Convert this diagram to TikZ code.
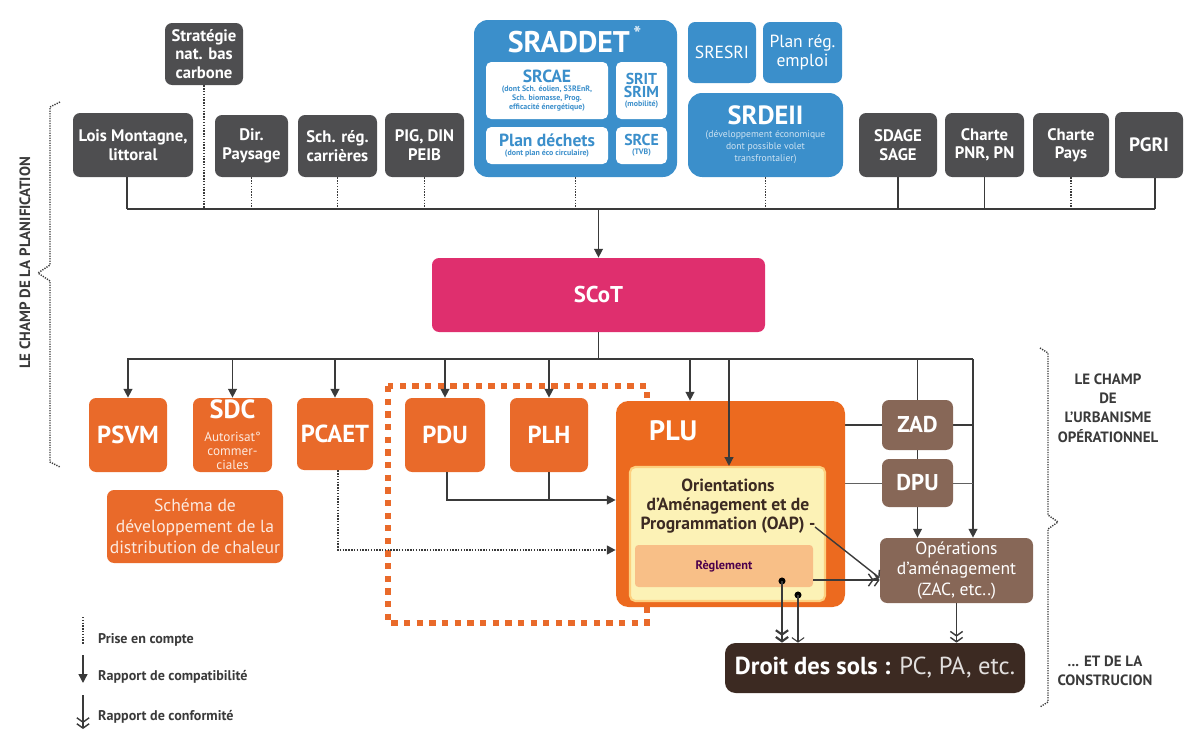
\documentclass[tikz,border=0pt]{standalone}
\usepackage{fontspec}
\setmainfont{PT Sans}
\usetikzlibrary{arrows.meta,calc,backgrounds}

\definecolor{dgray}{HTML}{4E4E50}
\definecolor{sblue}{HTML}{3B8FCB}
\definecolor{scotc}{HTML}{DF2F6E}
\definecolor{orng}{HTML}{E96A2A}
\definecolor{pluc}{HTML}{EC6A1F}
\definecolor{oapy}{HTML}{FCF2B6}
\definecolor{reglc}{HTML}{F8BF87}
\definecolor{brwn}{HTML}{876757}
\definecolor{dbrwn}{HTML}{3C2A22}
\definecolor{lnk}{HTML}{3A3A3A}

\tikzset{
  wh/.style 2 args={minimum width=#1*0.02cm, minimum height=#2*0.02cm},
  boite/.style={rounded corners=4pt, inner sep=1pt, align=center, text=white,
                font=\bfseries\fontsize{9.5}{10.5}\selectfont},
  gris/.style={boite, fill=dgray},
  bleu/.style={boite, fill=sblue},
  blanc/.style={boite, fill=white, text=sblue, rounded corners=3pt,
                font=\bfseries\fontsize{4.5}{5}\selectfont},
  boiteor/.style={boite, fill=orng, font=\bfseries\fontsize{14}{15}\selectfont},
  brun/.style={boite, fill=brwn, font=\bfseries\fontsize{13}{14}\selectfont},
  lien/.style={draw=lnk, line width=0.8pt},
  fin/.style={draw=lnk!80, line width=0.5pt},
  pointille/.style={draw=lnk, line width=1.1pt, dash pattern=on 0.8pt off 0.8pt},
  compat/.style={lien, -{Triangle[length=5pt,width=5pt]}},
  conform/.style={lien, -{Straight Barb[length=2.5pt,width=7pt] Straight Barb[length=2.5pt,width=7pt]}},
  simple/.style={lien, -{Straight Barb[length=2.5pt,width=7pt]}},
  legende/.style={anchor=west, text=lnk, font=\bfseries\fontsize{8}{9}\selectfont},
  champ/.style={text=lnk, align=center, font=\bfseries\fontsize{8.5}{11}\selectfont},
}
\newcommand{\titreb}[1]{{\fontsize{10}{11}\selectfont #1}}
\newcommand{\titrec}[1]{{\fontsize{9}{10}\selectfont #1}}

\begin{document}
\begin{tikzpicture}[x=0.02cm, y=-0.02cm]
\useasboundingbox (0,0) rectangle (1184,754);

%%%%%%%%%%%%%%%%%%%%%%%%%%%%%%%%%%%%%%%%%%%%%%%% DOCUMENTS SUPERIEURS
\node[gris, wh={78}{62}] (strat) at (204,54) {Stratégie\\nat. bas\\carbone};
\node[gris, wh={120}{64}] (lois) at (133,145) {Lois Montagne,\\littoral};
\node[gris, wh={73}{62}] (dir) at (251.5,146) {Dir.\\Paysage};
\node[gris, wh={79}{62}] (sch) at (337.5,146) {Sch. rég.\\carrières};
\node[gris, wh={79}{64}] (pig) at (424.5,145) {PIG, DIN\\PEIB};
\node[gris, wh={78}{64}] (sdage) at (898,145) {SDAGE\\SAGE};
\node[gris, wh={79}{64}] (pnr) at (984.5,145) {Charte\\PNR, PN};
\node[gris, wh={76}{64}] (pays) at (1071,145) {Charte\\Pays};
\node[gris, wh={68}{66}, font=\bfseries\fontsize{11}{12}\selectfont] (pgri) at (1149,145) {PGRI};

%%%%%%%%%%%%%%%%%%%%%%%%%%%%%%%%%%%%%%%%%%%%%%%% SRADDET et cie
\node[bleu, wh={203}{157}, rounded corners=8pt] (sraddet) at (575.5,98.5) {};
\node[text=white, font=\bfseries\fontsize{17}{18}\selectfont] (sradtit) at (575,40)
  {SRADDET\textsuperscript{\,\color{white!80!sblue}*}};
\node[blanc, wh={122}{57}] (srcae) at (547,90.5)
  {\titreb{SRCAE}\\(dont Sch. éolien, S3REnR,\\Sch. biomasse, Prog.\\efficacité énergétique)};
\node[blanc, wh={51}{57}] (srit) at (641.5,90.5)
  {\titrec{SRIT}\\\titrec{SRIM}\\(mobilité)};
\node[blanc, wh={122}{37}] (dechets) at (547,145.5)
  {\titreb{Plan déchets}\\(dont plan éco circulaire)};
\node[blanc, wh={51}{37}] (srce) at (641.5,145.5)
  {\titrec{SRCE}\\(TVB)};
\node[bleu, wh={68}{61}, font=\fontsize{10}{11}\selectfont] (sresri) at (722,52.5) {SRESRI};
\node[bleu, wh={79}{61}, font=\fontsize{10}{11}\selectfont] (emploi) at (802.5,52.5) {Plan rég.\\emploi};
\node[bleu, wh={155}{84}, rounded corners=8pt, text=white!75!sblue, font=\fontsize{5.5}{7}\selectfont] (srdeii) at (765.5,135)
  {{\bfseries\fontsize{15}{16}\selectfont\color{white}SRDEII}\\(développement économique\\dont possible volet\\transfrontalier)};

%%%%%%%%%%%%%%%%%%%%%%%%%%%%%%%%%%%%%%%%%%%%%%%% BUS DU HAUT
\coordinate (hautG) at (127,209);
\coordinate (hautD) at (1155,209);
\draw[lien] (hautG) -- (hautD);
\draw[lien] (lois.south -| hautG) -- (hautG);
\draw[lien] (sdage.south) -- (sdage.south |- hautG);
\draw[lien] (pnr.south) -- (pnr.south |- hautG);
\draw[lien] (pgri.south -| hautD) -- (hautD);
\foreach \n in {strat,dir,sch,pig,sraddet,srdeii,pays}
  \draw[pointille] (\n.south) -- (\n.south |- hautG);

%%%%%%%%%%%%%%%%%%%%%%%%%%%%%%%%%%%%%%%%%%%%%%%% SCOT
\node[boite, fill=scotc, wh={333}{74}, font=\bfseries\fontsize{13}{14}\selectfont] (scot) at (598.5,295) {SCoT};
\draw[compat] (scot.north |- hautG) -- (scot.north);

\coordinate (basG) at (127,359);
\coordinate (basD) at (973,359);
\draw[lien] (scot.south) -- (scot.south |- basG);
\draw[lien] (basG) -- (basD);

%%%%%%%%%%%%%%%%%%%%%%%%%%%%%%%%%%%%%%%%%%%%%%%% CADRE POINTILLE ORANGE
\draw[orng, line width=3.2pt, dash pattern=on 3.6pt off 3.6pt] (388,386) rectangle (647,623);

%%%%%%%%%%%%%%%%%%%%%%%%%%%%%%%%%%%%%%%%%%%%%%%% DOCUMENTS ORANGES
\node[boiteor, wh={78}{74}] (psvm) at (128,435) {PSVM};
\node[boiteor, wh={79}{74}, font=\fontsize{7.5}{8}\selectfont, text=white!85!orng] (sdc) at (232.5,435)
  {{\bfseries\fontsize{15}{14}\selectfont\color{white}SDC}\\[5pt]Autorisat°\\commer-\\ciales};
\node[boiteor, wh={76}{72}] (pcaet) at (335,434) {PCAET};
\node[boiteor, wh={176}{73}, font=\fontsize{10}{12}\selectfont, text=white!85!orng] (schema) at (195,526.5)
  {Schéma de\\développement de la\\distribution de chaleur};
\node[boiteor, wh={80}{74}] (pdu) at (445,435) {PDU};
\node[boiteor, wh={78}{74}] (plh) at (549,435) {PLH};

\node[boite, fill=pluc, wh={229}{206}, rounded corners=7pt] (plu) at (730.5,504) {};
\node[anchor=west, text=white, font=\bfseries\fontsize{16}{17}\selectfont] (plutit) at (643,431) {PLU};
\node[boite, fill=oapy, draw=oapy!70!orange, line width=1.2pt, wh={195}{134}, rounded corners=3pt] (oap) at (727.5,534) {};
\node[text=dbrwn, align=center, font=\bfseries\fontsize{10}{11}\selectfont] (oaptxt) at (728,506)
  {Orientations\\d'Aménagement et de\\Programmation (OAP) -};
\node[boite, fill=reglc, wh={178}{42}, rounded corners=2pt, text=violet!60!black,
      font=\bfseries\fontsize{7}{8}\selectfont] (regl) at (724,566) {Règlement};

%%%%%%%%%%%%%%%%%%%%%%%%%%%%%%%%%%%%%%%%%%%%%%%% URBANISME OPERATIONNEL
\node[brun, wh={71}{50}] (zad) at (917.5,425) {ZAD};
\node[brun, wh={71}{48}] (dpu) at (917.5,483) {DPU};
\node[boite, fill=brwn, wh={153}{65}, font=\fontsize{10}{11.5}\selectfont] (oper) at (956.5,570.5)
  {Opérations\\d'aménagement\\(ZAC, etc..)};
\node[boite, fill=dbrwn, wh={300}{50}, font=\fontsize{14}{15}\selectfont, rounded corners=6pt] (droit) at (875,668)
  {\textbf{Droit des sols :} {\mdseries\color{white!85!dbrwn}PC, PA, etc.}};

%%%%%%%%%%%%%%%%%%%%%%%%%%%%%%%%%%%%%%%%%%%%%%%% LIENS
\foreach \n in {psvm,sdc,pcaet,pdu,plh}
  \draw[compat] (\n.north |- basG) -- (\n.north);
\coordinate (versplu) at (690,359);
\coordinate (versoap) at (729,359);
\draw[compat] (versplu) -- (versplu |- plu.north);
\draw[compat] (versoap) -- (versoap |- oap.north);

\begin{scope}[on background layer]
\draw[compat] (zad.north |- basG) -- (zad.north |- oper.north);
\draw[compat] (basD) -- (basD |- oper.north);
\draw[lien] (plu.east |- zad) -- (basD |- zad);
\draw[fin] (plu.east |- dpu) -- (basD |- dpu);
\end{scope}

\coordinate (coude) at (447,500);
\draw[compat] (pdu.south -| coude) -- (coude) -- (coude -| plu.west);
\draw[lien] (plh.south) -- (plh.south |- coude);
\coordinate (coudeb) at (338,550);
\draw[pointille, -{Triangle[length=5pt,width=5pt]}] (pcaet.south -| coudeb) -- (coudeb) -- (coudeb -| plu.west);

\coordinate (oapfin) at (815,527);
\draw[simple] (oapfin) -- ([yshift=-1.5mm]oper.west);
\coordinate (reglfin) at (813,580);
\draw[conform] (reglfin) -- (reglfin -| oper.west);

\fill[black] (782,581) circle (2pt) coordinate (pt1);
\fill[black] (798,595) circle (2pt) coordinate (pt2);
\draw[conform, line width=1.2pt] (pt1) -- (pt1 |- droit.north);
\draw[simple, line width=0.6pt] (pt2) -- (pt2 |- droit.north);
\draw[conform] (oper.south) -- (oper.south |- droit.north);

%%%%%%%%%%%%%%%%%%%%%%%%%%%%%%%%%%%%%%%%%%%%%%%% ACCOLADES
\draw[lnk, line width=0.8pt, dash pattern=on 0.7pt off 0.7pt]
  (60,102) -- (50,107) -- (50,265) -- (38,273) -- (50,281) -- (50,462) -- (60,467);
\node[champ, rotate=90] (planif) at (25,263) {LE CHAMP DE LA PLANIFICATION};
\draw[lnk, line width=0.8pt, dash pattern=on 0.7pt off 0.7pt]
  (1040,348) -- (1048,353) -- (1048,515) -- (1058,522) -- (1048,529) -- (1048,702) -- (1040,707);
\node[champ] (urba) at (1108,408) {LE CHAMP\\DE\\L'URBANISME\\OPÉRATIONNEL};
\node[champ] (constr) at (1105,671) {... ET DE LA\\CONSTRUCION};

%%%%%%%%%%%%%%%%%%%%%%%%%%%%%%%%%%%%%%%%%%%%%%%% LEGENDE
\draw[pointille, line width=0.8pt] (83,617) -- (83,645);
\node[legende] (leg1) at (92,640) {Prise en compte};
\draw[compat] (83,655) -- (83,683);
\node[legende] (leg2) at (92,677) {Rapport de compatibilité};
\draw[conform] (83,695) -- (83,729);
\node[legende] (leg3) at (92,717) {Rapport de conformité};

\end{tikzpicture}
\end{document}
